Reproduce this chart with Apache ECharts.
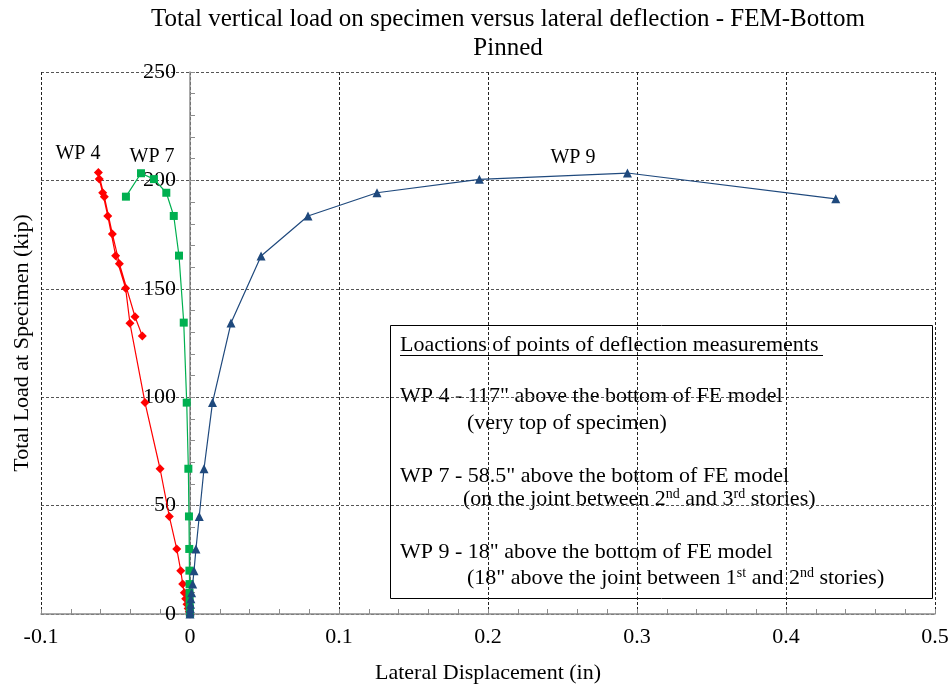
<!DOCTYPE html>
<html>
<head>
<meta charset="utf-8">
<script src="https://cdn.jsdelivr.net/npm/echarts@6/dist/echarts.min.js"></script>
<style>html,body{margin:0;padding:0;background:#fff}#main{width:950px;height:685px}</style>
</head>
<body>
<div id="main"></div>
<script>
// ---- data (lateral displacement in, total load kip) ----
const wp4X = [0, -0.0005, -0.0012, -0.0020, -0.0029, -0.0038, -0.0049, -0.0062, -0.0089, -0.0139, -0.0201, -0.0302, -0.0403, -0.0432, -0.0499, -0.0552, -0.0586, -0.0609, -0.0615, -0.0575, -0.0521, -0.0474, -0.0369, -0.0320];
const wp4Y = [0, 1, 2.5, 4.5, 7, 9.8, 13.8, 20, 30, 45, 67, 97.5, 134.1, 150.2, 165.3, 183.6, 194.3, 200.6, 203.7, 192.5, 175.3, 161.6, 137.1, 128.2];
const wp7X = [0, -0.0001, -0.0001, -0.0002, -0.0002, -0.0003, -0.0003, -0.0004, -0.0005, -0.0007, -0.0011, -0.0022, -0.0042, -0.0074, -0.0109, -0.0159, -0.0242, -0.0329, -0.0430];
const wp7Y = [0, 1, 2.5, 4.5, 7, 9.8, 13.8, 20, 30, 45, 67, 97.5, 134.4, 165.3, 183.6, 194.3, 200.6, 203.3, 192.5];
const wp9X = [0, 0.0001, 0.0002, 0.0004, 0.0006, 0.0011, 0.0018, 0.0027, 0.0040, 0.0062, 0.0094, 0.0151, 0.0275, 0.0477, 0.0792, 0.1255, 0.1942, 0.2936, 0.4334];
const wp9Y = [0, 1, 2.5, 4.5, 7, 9.8, 13.8, 20, 30, 45, 67, 97.5, 134.2, 165.1, 183.6, 194.3, 200.5, 203.4, 191.5];
const seriesNames = ['WP 4', 'WP 7', 'WP 9'];
const labelPos = [[-0.0752, 212.5], [-0.0255, 211], [0.257, 210.3]];
const xTicks = [-0.1, 0, 0.1, 0.2, 0.3, 0.4, 0.5];
const yTicks = [0, 50, 100, 150, 200, 250];

const pair = (xs, ys) => xs.map((x, i) => [x, ys[i]]);
const FONT = 'Liberation Serif';

const chart = echarts.init(document.getElementById('main'));
function mk(name, xs, ys, color, symbol, size, lp) {
  return {
    name, type: 'line', data: pair(xs, ys), symbol, symbolSize: size,
    lineStyle: {color, width: 1.2}, itemStyle: {color},
    animation: false,
    markPoint: {
      symbol: 'circle', symbolSize: 0, silent: true,
      label: {show: true, formatter: name, color: '#000', fontFamily: FONT, fontSize: 20, position: 'inside'},
      data: [{coord: lp}]
    }
  };
}
const T = (x, y, text, extra) => ({type: 'text', x, y, style: Object.assign({text, verticalAlign: 'middle', fontFamily: FONT, fontSize: 22, fill: '#000'}, extra || {})});
const supRich = {s: {fontFamily: FONT, fontSize: 14, verticalAlign: 'top', fill: '#000', lineHeight: 24}};
const option = {
  animation: false,
  grid: {left: 41, right: 15, top: 72, bottom: 71, containLabel: false, outerBoundsMode: 'none'},
  xAxis: {
    type: 'value', min: -0.1, max: 0.5, interval: 0.1,
    name: 'Lateral Displacement (in)', nameLocation: 'middle', nameGap: 48,
    nameTextStyle: {fontFamily: FONT, fontSize: 22, color: '#000'},
    axisLine: {show: true, onZero: false, lineStyle: {color: '#8c8c8c', width: 1.5}},
    axisTick: {show: true, inside: true, length: 5, lineStyle: {color: '#8c8c8c'}},
    minorTick: {show: true, splitNumber: 5, length: 5, lineStyle: {color: '#8c8c8c'}},
    axisLabel: {fontFamily: FONT, fontSize: 22, color: '#000', margin: 12,
      formatter: v => { const r = Math.round(v * 10) / 10; return xTicks.includes(r) ? String(r) : ''; }},
    splitLine: {show: true, lineStyle: {color: '#222', type: [3, 2], width: 1}}
  },
  yAxis: {
    type: 'value', min: 0, max: 250, interval: 50, offset: -149,
    axisLine: {show: true, onZero: false, lineStyle: {color: '#8c8c8c', width: 1.5}},
    axisTick: {show: true, inside: true, length: 5, lineStyle: {color: '#8c8c8c'}},
    minorTick: {show: true, splitNumber: 5, length: 5, lineStyle: {color: '#8c8c8c'}},
    axisLabel: {fontFamily: FONT, fontSize: 22, color: '#000', margin: 14,
      formatter: v => yTicks.includes(v) ? String(v) : ''},
    splitLine: {show: true, lineStyle: {color: '#555', type: [3, 2], width: 1}}
  },
  series: [
    mk(seriesNames[0], wp4X, wp4Y, '#ff0000', 'diamond', 9, labelPos[0]),
    mk(seriesNames[1], wp7X, wp7Y, '#00b050', 'rect', 8, labelPos[1]),
    mk(seriesNames[2], wp9X, wp9Y, '#1f497d', 'triangle', 9, labelPos[2])
  ],
  graphic: [
    {type: 'text', x: 508, y: 5, style: {text: 'Total vertical load on specimen versus lateral deflection - FEM-Bottom\nPinned',
      align: 'center', verticalAlign: 'top', fontFamily: FONT, fontSize: 25, lineHeight: 29, fill: '#000'}},
    {type: 'text', x: 22, y: 343, rotation: Math.PI / 2, style: {text: 'Total Load at Specimen (kip)',
      align: 'center', verticalAlign: 'middle', fontFamily: FONT, fontSize: 22, fill: '#000'}},
    {type: 'rect', shape: {x: 390.5, y: 325.5, width: 542, height: 273}, style: {fill: 'none', stroke: '#000', lineWidth: 1}},
    T(400, 345, 'Loactions of points of deflection measurements'),
    {type: 'line', shape: {x1: 400, y1: 355.5, x2: 823, y2: 355.5}, style: {stroke: '#000', lineWidth: 1}},
    T(400, 396, 'WP 4 - 117" above the bottom of FE model'),
    T(467, 423, '(very top of specimen)'),
    T(400, 476, 'WP 7 - 58.5" above the bottom of FE model'),
    T(463, 487, '(on the joint between 2{s|nd} and 3{s|rd} stories)', {verticalAlign: 'top', rich: supRich}),
    T(400, 552, 'WP 9 - 18" above the bottom of FE model'),
    T(467, 566, '(18" above the joint between 1{s|st} and 2{s|nd} stories)', {verticalAlign: 'top', rich: supRich})
  ]
};
chart.setOption(option);
</script>
</body>
</html>
